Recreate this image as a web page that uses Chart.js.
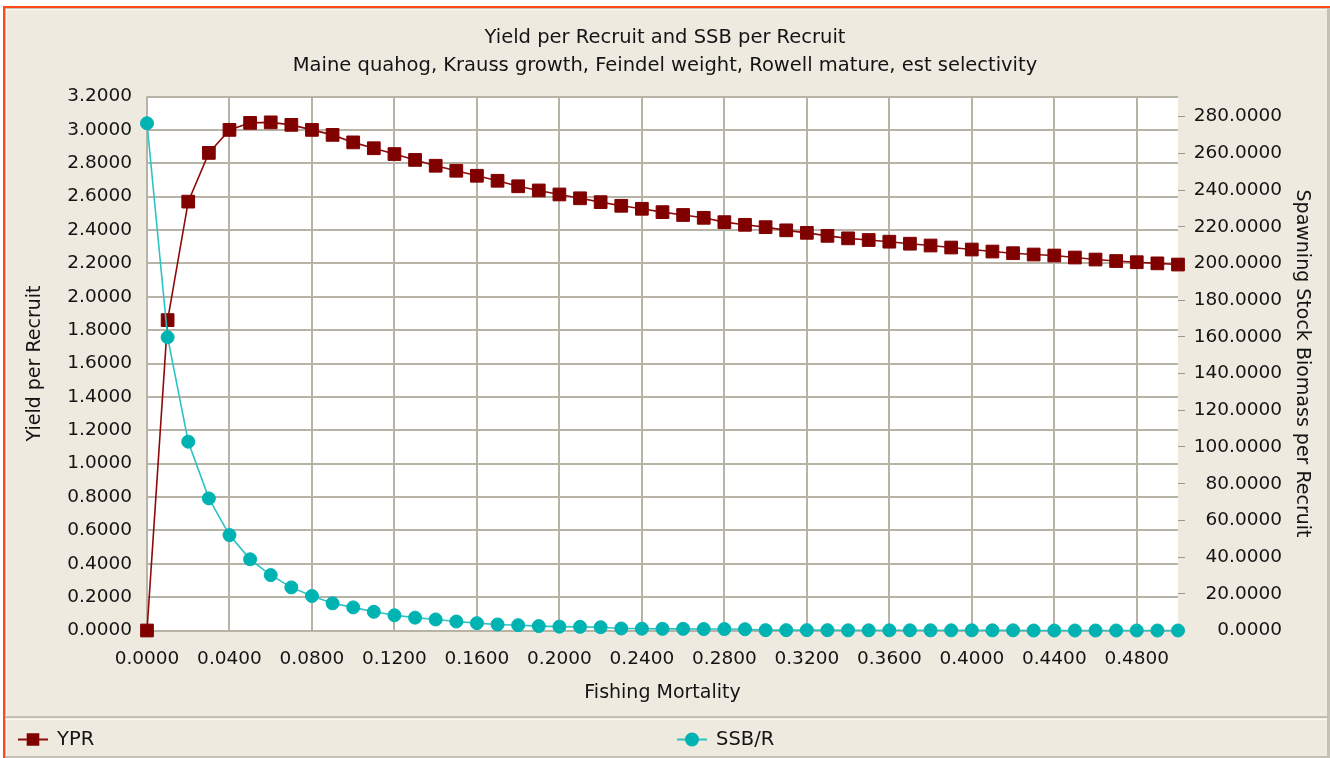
<!DOCTYPE html>
<html>
<head>
<meta charset="utf-8">
<script src="https://cdn.jsdelivr.net/npm/chart.js@4"></script>
<style>
  html, body { margin: 0; padding: 0; background: #fff; }
  canvas { display: block; }
</style>
</head>
<body>
<canvas id="ypr" width="1330" height="758"></canvas>
<script>
// fishing mortality (x)
const fishingMortality = [
  0.00, 0.01, 0.02, 0.03, 0.04, 0.05, 0.06, 0.07, 0.08, 0.09,
  0.10, 0.11, 0.12, 0.13, 0.14, 0.15, 0.16, 0.17, 0.18, 0.19,
  0.20, 0.21, 0.22, 0.23, 0.24, 0.25, 0.26, 0.27, 0.28, 0.29,
  0.30, 0.31, 0.32, 0.33, 0.34, 0.35, 0.36, 0.37, 0.38, 0.39,
  0.40, 0.41, 0.42, 0.43, 0.44, 0.45, 0.46, 0.47, 0.48, 0.49,
  0.50
];

// yield per recruit (left axis)
const yprValues = [
  0.000, 1.860, 2.570, 2.862, 3.000, 3.042, 3.045, 3.030, 3.000, 2.970,
  2.925, 2.890, 2.855, 2.820, 2.785, 2.755, 2.725, 2.695, 2.662, 2.637,
  2.613, 2.590, 2.567, 2.545, 2.527, 2.507, 2.490, 2.473, 2.447, 2.431,
  2.417, 2.398, 2.383, 2.365, 2.350, 2.340, 2.330, 2.318, 2.307, 2.295,
  2.283, 2.271, 2.261, 2.253, 2.247, 2.235, 2.223, 2.214, 2.207, 2.200,
  2.193
];

// SSB per recruit (right axis)
const ssbrValues = [
  276.4, 159.8, 102.9, 72.0, 52.0, 38.8, 30.2, 23.5, 18.8, 14.8,
  12.6, 10.2, 8.3, 7.0, 6.0, 4.9, 4.0, 3.3, 2.9, 2.4,
  2.1, 2.0, 1.8, 1.1, 1.0, 0.9, 0.9, 0.8, 0.8, 0.7,
  0.2, 0.2, 0.2, 0.2, 0.1, 0.1, 0.1, 0.1, 0.1, 0.1,
  0.1, 0.1, 0.1, 0.0, 0.0, 0.0, 0.0, 0.0, 0.0, 0.0,
  0.0
];

const seriesNames = ["YPR", "SSB/R"];

// tick positions
const xTicks = [0, 0.04, 0.08, 0.12, 0.16, 0.20, 0.24, 0.28, 0.32, 0.36, 0.40, 0.44, 0.48];
const yprTicks = [0, 0.2, 0.4, 0.6, 0.8, 1.0, 1.2, 1.4, 1.6, 1.8, 2.0, 2.2, 2.4, 2.6, 2.8, 3.0, 3.2];
const ssbrTicks = [0, 20, 40, 60, 80, 100, 120, 140, 160, 180, 200, 220, 240, 260, 280];

const BEIGE = "#EEEAE0";
const GRID = "#B7B3A6";
const TEXT = "#141414";
const FONT = "DejaVu Sans";

Chart.defaults.font.family = FONT;
Chart.defaults.font.size = 19;
Chart.defaults.color = TEXT;

const toPoints = (ys) => fishingMortality.map((f, i) => ({ x: f, y: ys[i] }));
const useTicks = (list) => (scale) => {
  scale.ticks = list.map(v => ({ value: v }));
};

// window background, frame and white plot area
const framePlugin = {
  id: "frame",
  afterLayout(chart) {
    // right-aligned labels of the right axis end before the axis title
    chart.scales.y1.right = 1282;
  },
  beforeDraw(chart) {
    const { ctx, chartArea: a } = chart;
    ctx.save();
    ctx.fillStyle = "#fff";
    ctx.fillRect(0, 0, 1330, 758);
    ctx.fillStyle = BEIGE;
    ctx.fillRect(5, 8, 1322, 748);
    // orange outer edge
    ctx.fillStyle = "#FF4A17";
    ctx.fillRect(3, 6, 1327, 2);
    ctx.fillRect(3, 6, 2, 752);
    // sunken edges
    ctx.fillStyle = "#C4C0B3";
    ctx.fillRect(5, 8, 1322, 1);
    ctx.fillRect(5, 8, 1, 750);
    ctx.fillRect(1327, 8, 3, 750);
    ctx.fillRect(5, 756, 1325, 2);
    ctx.fillStyle = "#FAF9F5";
    ctx.fillRect(6, 9, 1321, 1);
    ctx.fillRect(6, 9, 1, 747);
    // legend separator
    ctx.fillStyle = "#C4C0B3";
    ctx.fillRect(5, 716, 1322, 2);
    ctx.fillStyle = "#FAF9F5";
    ctx.fillRect(5, 719, 1322, 1);
    // plot background
    ctx.fillStyle = "#FFFFFF";
    ctx.fillRect(a.left, a.top, a.right - a.left, a.bottom - a.top);
    ctx.restore();
  }
};

// legend in the strip below the separator, two columns
const legendPlugin = {
  id: "stripLegend",
  afterDraw(chart) {
    const { ctx } = chart;
    const y = 739.5;
    ctx.save();
    chart.data.datasets.forEach((ds, i) => {
      const x0 = 18 + i * 659;
      ctx.strokeStyle = ds.borderColor;
      ctx.lineWidth = 2;
      ctx.beginPath();
      ctx.moveTo(x0, y);
      ctx.lineTo(x0 + 30, y);
      ctx.stroke();
      ctx.fillStyle = ds.pointBackgroundColor;
      ctx.strokeStyle = ds.pointBorderColor;
      Chart.helpers.drawPoint(ctx, {
        pointStyle: ds.pointStyle,
        radius: ds.pointStyle === "rect" ? 7.5 : 6,
        rotation: 0,
        borderWidth: 1
      }, x0 + 15, y);
      ctx.fillStyle = TEXT;
      ctx.font = "19.5px " + FONT;
      ctx.textBaseline = "middle";
      ctx.textAlign = "left";
      ctx.fillText(ds.label, x0 + 39, y);
    });
    ctx.restore();
  }
};

new Chart(document.getElementById("ypr"), {
  type: "line",
  data: {
    datasets: [
      {
        label: seriesNames[0],
        data: toPoints(yprValues),
        yAxisID: "y",
        order: 1,
        borderColor: "#8E0A0A",
        borderWidth: 1.6,
        pointStyle: "rect",
        pointRadius: 9,
        pointHoverRadius: 9,
        pointBackgroundColor: "#800000",
        pointBorderColor: "#800000",
        pointBorderWidth: 1,
        tension: 0,
        clip: false
      },
      {
        label: seriesNames[1],
        data: toPoints(ssbrValues),
        yAxisID: "y1",
        order: 0,
        borderColor: "#2CC3C3",
        borderWidth: 1.6,
        pointStyle: "circle",
        pointRadius: 6.5,
        pointHoverRadius: 6.5,
        pointBackgroundColor: "#00B3B3",
        pointBorderColor: "#00B3B3",
        pointBorderWidth: 1,
        tension: 0,
        clip: false
      }
    ]
  },
  options: {
    responsive: false,
    animation: false,
    events: [],
    layout: { padding: { top: 0, left: 0, right: 0, bottom: 42 } },
    plugins: {
      legend: { display: false },
      tooltip: { enabled: false },
      title: {
        display: true,
        text: "Yield per Recruit and SSB per Recruit",
        color: TEXT,
        font: { size: 19.5, weight: "normal", lineHeight: 1.2 },
        padding: { top: 26.5, bottom: 4.6 }
      },
      subtitle: {
        display: true,
        text: "Maine quahog, Krauss growth, Feindel weight, Rowell mature, est selectivity",
        color: TEXT,
        font: { size: 19.5, weight: "normal", lineHeight: 1.2 },
        padding: { top: 0, bottom: 18.6 }
      }
    },
    scales: {
      x: {
        type: "linear",
        min: 0,
        max: 0.5,
        afterBuildTicks: useTicks(xTicks),
        afterFit: (s) => { s.height = 85.5; },
        ticks: {
          padding: 18,
          font: { size: 18.5 },
          color: TEXT,
          maxRotation: 0,
          autoSkip: false,
          callback: (v) => Number(v).toFixed(4)
        },
        grid: { color: GRID, lineWidth: 2, drawTicks: false },
        border: { display: false },
        title: {
          display: true,
          text: "Fishing Mortality",
          color: TEXT,
          font: { size: 19 },
          padding: { top: 0, bottom: 12 }
        }
      },
      y: {
        position: "left",
        min: 0,
        max: 3.2,
        afterBuildTicks: useTicks(yprTicks),
        afterFit: (s) => { s.width = 147; },
        ticks: {
          padding: 15,
          font: { size: 18.5 },
          color: TEXT,
          callback: (v) => Number(v).toFixed(4)
        },
        grid: { color: GRID, lineWidth: 2, drawTicks: false },
        border: { display: false },
        title: {
          display: true,
          text: "Yield per Recruit",
          color: TEXT,
          font: { size: 19 },
          padding: { top: 23.6, bottom: 0 }
        }
      },
      y1: {
        position: "right",
        min: 0,
        max: 291,
        afterBuildTicks: useTicks(ssbrTicks),
        afterFit: (s) => { s.width = 152; },
        ticks: {
          padding: 6,
          crossAlign: "far",
          font: { size: 18.5 },
          color: TEXT,
          callback: (v) => Number(v).toFixed(4)
        },
        grid: { drawOnChartArea: false, color: "#9C988C", lineWidth: 1, tickLength: 7 },
        border: { display: false },
        title: {
          display: true,
          text: "Spawning Stock Biomass per Recruit",
          color: TEXT,
          font: { size: 19 },
          padding: { top: -31.4, bottom: 0 }
        }
      }
    }
  },
  plugins: [framePlugin, legendPlugin]
});
</script>
</body>
</html>
